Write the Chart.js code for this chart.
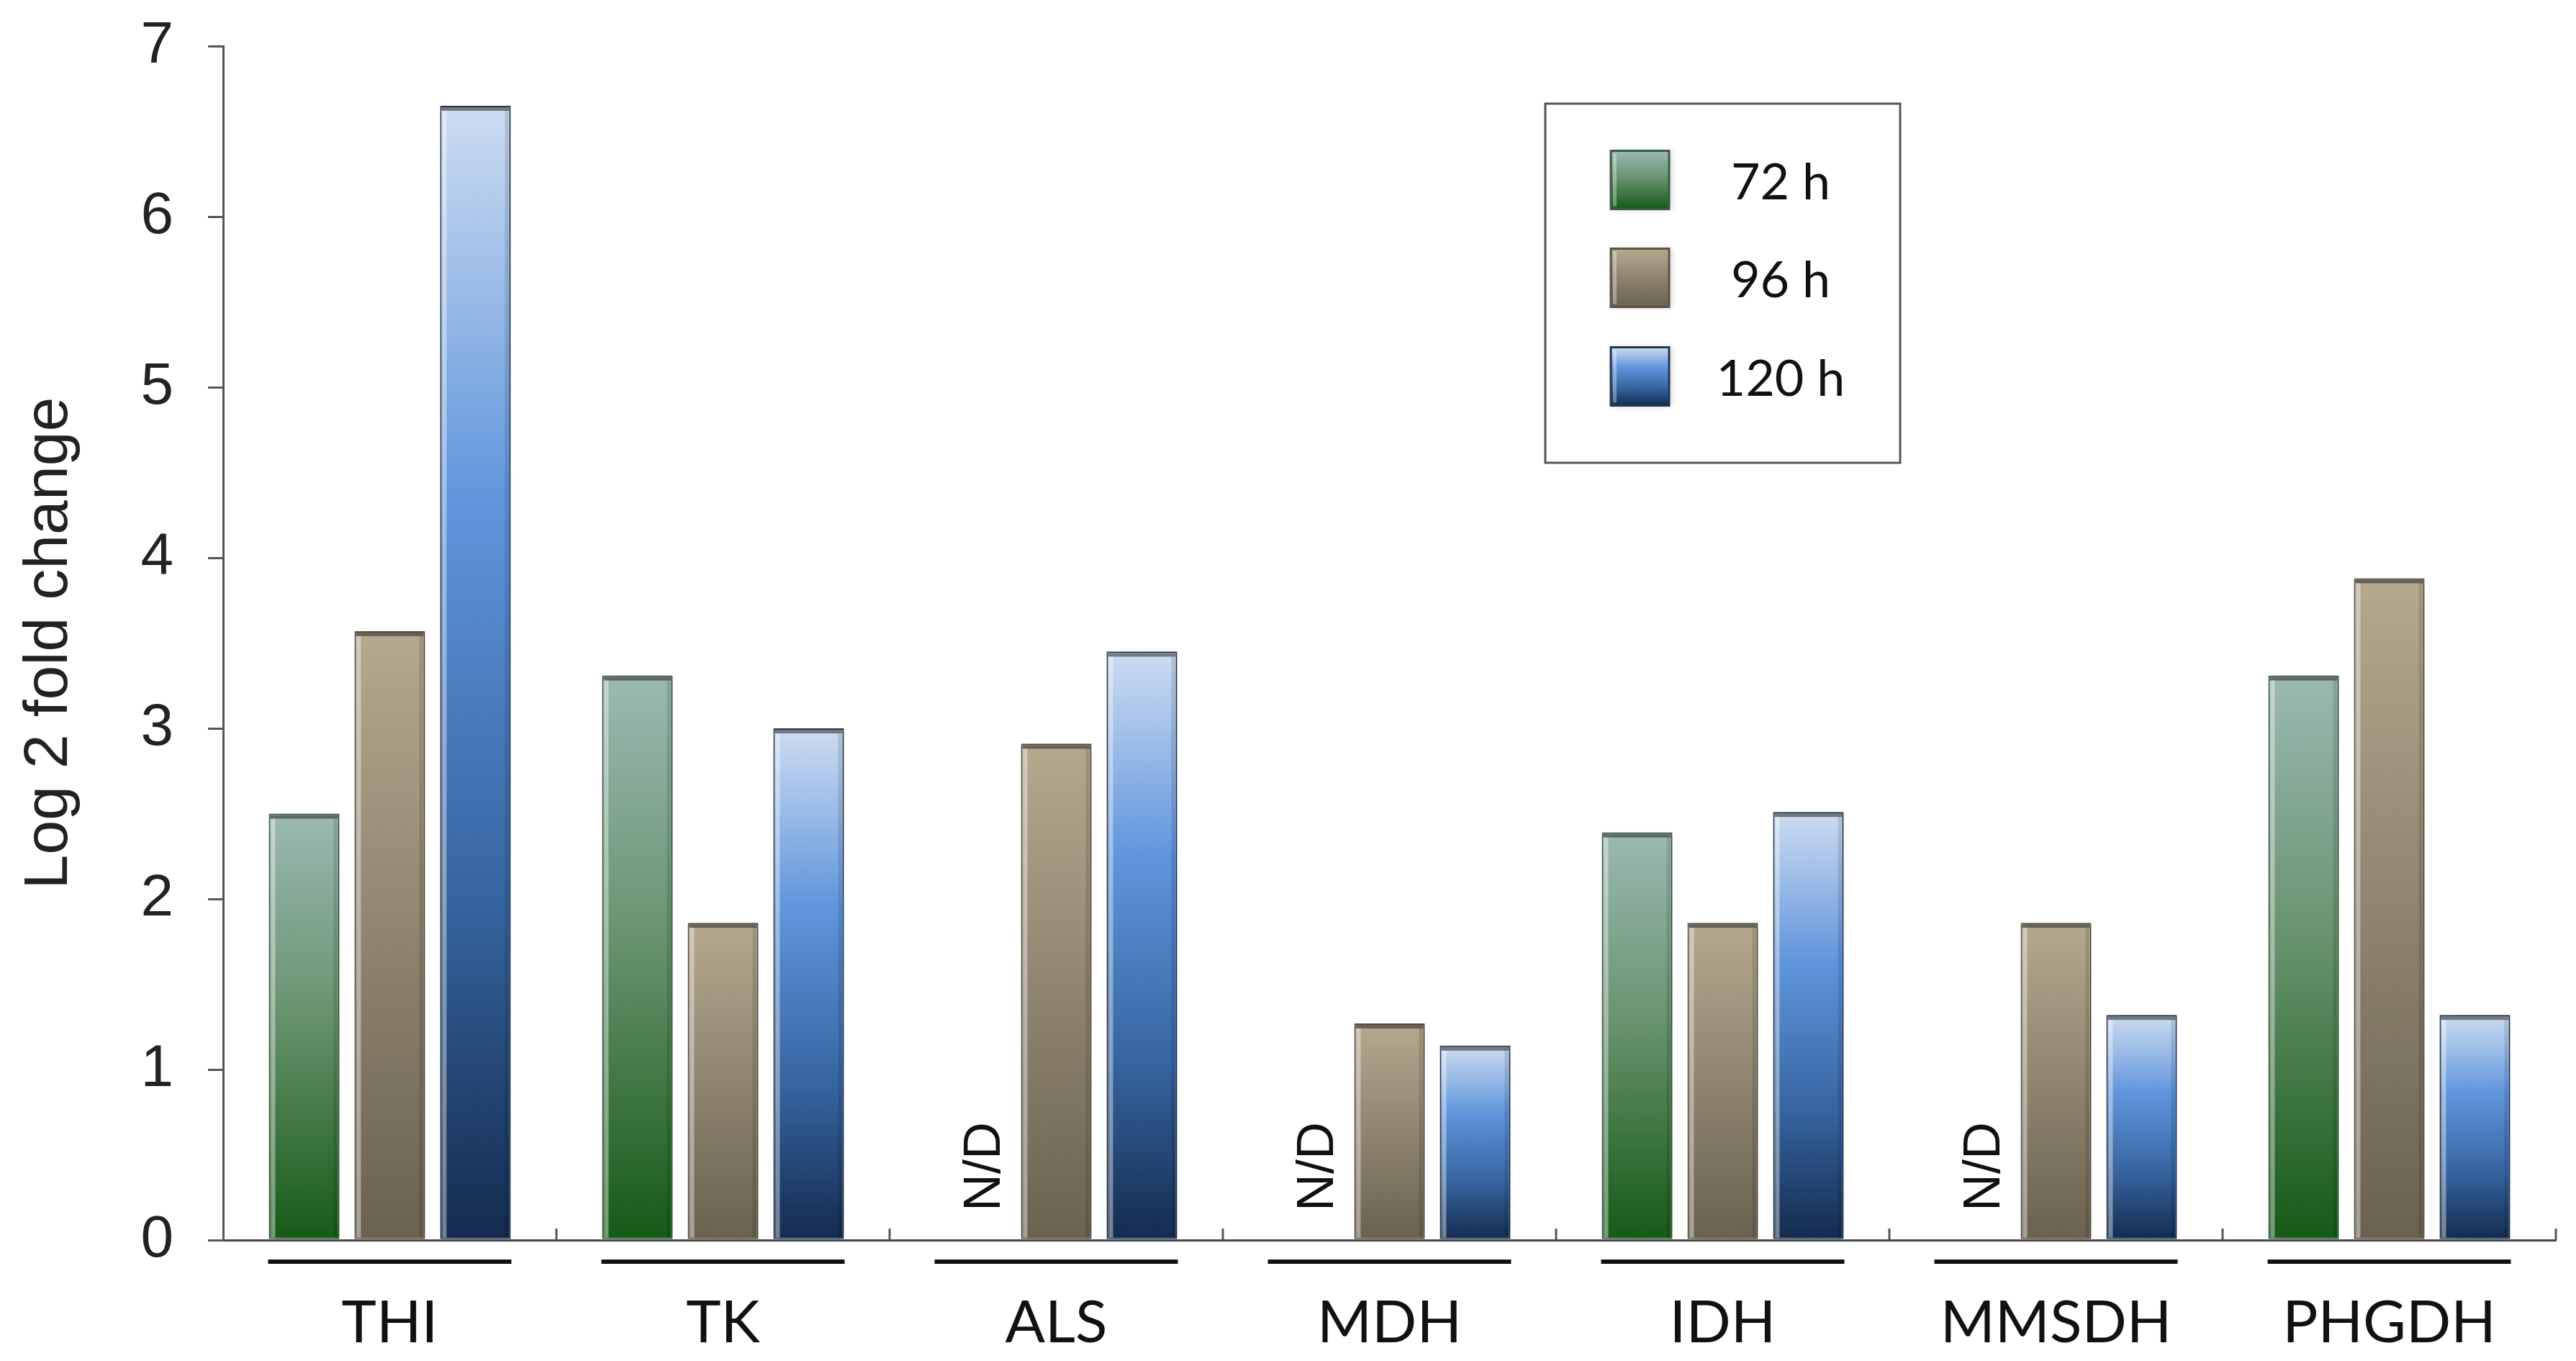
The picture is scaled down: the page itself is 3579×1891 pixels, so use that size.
<!DOCTYPE html>
<html lang="en">
<head>
    <meta charset="UTF-8">
    <title>Log 2 fold change</title>
    <script src="https://cdn.jsdelivr.net/npm/chart.js"></script>
    <style>
        body { margin: 0; background: #fff; }
        canvas { display: block; }
    </style>
</head>
<body>
    <canvas id="chart" width="3579" height="1891"></canvas>

    <script>
        // data
        const categories = ['THI', 'TK', 'ALS', 'MDH', 'IDH', 'MMSDH', 'PHGDH'];
        const seriesLabels = ['72 h', '96 h', '120 h'];
        const values72 = [2.50, 3.31, null, null, 2.39, null, 3.31];
        const values96 = [3.57, 1.86, 2.91, 1.27, 1.86, 1.86, 3.88];
        const values120 = [6.65, 3.00, 3.45, 1.14, 2.51, 1.32, 1.32];
        const yMin = 0, yMax = 7, yStep = 1;
        const missingLabel = 'N/D';

        // gradient stops per series (top -> bottom of each bar)
        const gradStops = [
            [[0, '#9bb9b3'], [0.45, '#6a9470'], [1, '#165a17']],
            [[0, '#b5a98e'], [0.5, '#8e8470'], [1, '#6a6250']],
            [[0, '#cddcf1'], [0.35, '#5f95dc'], [0.7, '#36649f'], [1, '#142b4e']]
        ];
        const borderColors = ['#3c5a44', '#5c5444', '#27364f'];

        function makeGradient(ctx, top, bottom, stops) {
            const g = ctx.createLinearGradient(0, top, 0, bottom);
            stops.forEach(s => g.addColorStop(s[0], s[1]));
            return g;
        }

        function barFill(context) {
            const chart = context.chart;
            const ya = chart.scales.y;
            const stops = gradStops[context.datasetIndex];
            if (!ya || context.type !== 'data' || context.raw == null) return stops[1][1];
            const top = ya.getPixelForValue(context.raw);
            const base = ya.getPixelForValue(0);
            if (!isFinite(top) || !isFinite(base) || top === base) return stops[1][1];
            return makeGradient(chart.ctx, top, base, stops);
        }

        // shadow + bevel, underlines, N/D, legend box
        const decorPlugin = {
            id: 'decor',
            beforeDatasetsDraw(chart) {
                const ctx = chart.ctx;
                ctx.save();
                ctx.shadowColor = 'rgba(0,0,0,0.28)';
                ctx.shadowBlur = 14;
                ctx.shadowOffsetX = 7;
                ctx.shadowOffsetY = 2;
            },
            afterDatasetsDraw(chart) {
                const ctx = chart.ctx;
                ctx.restore();

                // bevel highlights on each bar
                chart.data.datasets.forEach((ds, di) => {
                    chart.getDatasetMeta(di).data.forEach((bar, i) => {
                        if (ds.data[i] == null) return;
                        const p = bar.getProps(['x', 'y', 'base', 'width'], true);
                        const left = p.x - p.width / 2, right = p.x + p.width / 2;
                        const h = p.base - p.y;
                        ctx.save();
                        ctx.fillStyle = 'rgba(255,255,255,0.4)';
                        ctx.fillRect(left + 3, p.y + 6, 6, h - 8);
                        ctx.fillStyle = 'rgba(0,0,0,0.12)';
                        ctx.fillRect(right - 8, p.y + 6, 5, h - 8);
                        ctx.fillStyle = 'rgba(40,40,40,0.55)';
                        ctx.fillRect(left + 2, p.y + 2, p.width - 4, 5);
                        ctx.restore();
                    });
                });

                const xs = chart.scales.x, ys = chart.scales.y;
                const y0 = ys.getPixelForValue(0);
                const groupW = (xs.right - xs.left) / categories.length;

                ctx.save();
                // small upward ticks at group boundaries
                ctx.strokeStyle = '#555';
                ctx.lineWidth = 3;
                for (let i = 1; i <= categories.length; i++) {
                    const x = xs.left + i * groupW;
                    ctx.beginPath();
                    ctx.moveTo(x, y0);
                    ctx.lineTo(x, y0 - 16);
                    ctx.stroke();
                }
                // underline below each group
                ctx.strokeStyle = '#111';
                ctx.lineWidth = 6;
                categories.forEach((c, i) => {
                    const cx = xs.getPixelForValue(i);
                    ctx.beginPath();
                    ctx.moveTo(cx - groupW * 0.365, y0 + 30);
                    ctx.lineTo(cx + groupW * 0.365, y0 + 30);
                    ctx.stroke();
                });

                // N/D labels where the 72 h value is missing
                const m1 = chart.getDatasetMeta(1).data, m2 = chart.getDatasetMeta(2).data;
                ctx.fillStyle = '#111';
                ctx.font = '72px "Liberation Sans", Arial, sans-serif';
                ctx.textAlign = 'left';
                ctx.textBaseline = 'alphabetic';
                values72.forEach((v, i) => {
                    if (v != null) return;
                    const slotX = m1[i].x - (m2[i].x - m1[i].x);
                    ctx.save();
                    ctx.translate(slotX + 40, y0 - 40);
                    ctx.rotate(-Math.PI / 2);
                    ctx.fillText(missingLabel, 0, 0);
                    ctx.restore();
                });

                // legend box
                const box = { x: 2147, y: 144, w: 493, h: 499 };
                ctx.fillStyle = '#fff';
                ctx.fillRect(box.x, box.y, box.w, box.h);
                ctx.strokeStyle = '#555';
                ctx.lineWidth = 3;
                ctx.strokeRect(box.x, box.y, box.w, box.h);
                const rowY = [250, 386, 523];
                const sw = 81;
                ctx.font = '70px Lato, "Open Sans", sans-serif';
                ctx.textAlign = 'center';
                ctx.textBaseline = 'middle';
                chart.data.datasets.forEach((ds, di) => {
                    const top = rowY[di] - sw / 2;
                    ctx.save();
                    ctx.shadowColor = 'rgba(0,0,0,0.2)';
                    ctx.shadowBlur = 8;
                    ctx.shadowOffsetX = 3;
                    ctx.fillStyle = makeGradient(ctx, top, top + sw, gradStops[di]);
                    ctx.fillRect(2238, top, sw, sw);
                    ctx.restore();
                    ctx.strokeStyle = borderColors[di];
                    ctx.lineWidth = 3;
                    ctx.strokeRect(2238, top, sw, sw);
                    ctx.fillStyle = 'rgba(255,255,255,0.35)';
                    ctx.fillRect(2241, top + 4, 5, sw - 8);
                    ctx.fillStyle = '#111';
                    ctx.fillText(ds.label, 2474, rowY[di] + 4);
                });
                ctx.restore();
            }
        };

        const datasets = [values72, values96, values120].map((vals, i) => ({
            label: seriesLabels[i],
            data: vals,
            backgroundColor: barFill,
            borderColor: borderColors[i],
            borderWidth: 2,
            borderSkipped: false,
            categoryPercentage: 0.771,
            barPercentage: 0.824
        }));

        new Chart(document.getElementById('chart'), {
            type: 'bar',
            data: { labels: categories, datasets: datasets },
            options: {
                responsive: false,
                animation: false,
                devicePixelRatio: 1,
                layout: { padding: { left: 0, right: 28, top: 64, bottom: 0 } },
                plugins: {
                    legend: { display: false },
                    tooltip: { enabled: false }
                },
                scales: {
                    x: {
                        grid: { display: false },
                        border: { display: true, color: '#444', width: 3 },
                        ticks: {
                            color: '#111',
                            padding: 58,
                            font: { family: 'Lato, "Open Sans", sans-serif', size: 82 }
                        },
                        afterFit(scale) { scale.height = 168; }
                    },
                    y: {
                        min: yMin,
                        max: yMax,
                        grid: {
                            drawOnChartArea: false,
                            drawTicks: true,
                            tickLength: 21,
                            tickColor: '#555',
                            lineWidth: 3
                        },
                        border: { display: true, color: '#555', width: 3 },
                        ticks: {
                            stepSize: yStep,
                            color: '#222',
                            padding: 48,
                            font: { family: '"Liberation Sans", Arial, sans-serif', size: 82 }
                        },
                        title: {
                            display: true,
                            text: 'Log 2 fold change',
                            color: '#222',
                            padding: { top: 18, bottom: 0 },
                            font: { family: '"Liberation Sans", Arial, sans-serif', size: 86 }
                        },
                        afterFit(scale) {
                            scale.width = 310;
                            scale.paddingTop = 0;
                            scale.paddingBottom = 0;
                        }
                    }
                }
            },
            plugins: [decorPlugin]
        });
    </script>
</body>
</html>
